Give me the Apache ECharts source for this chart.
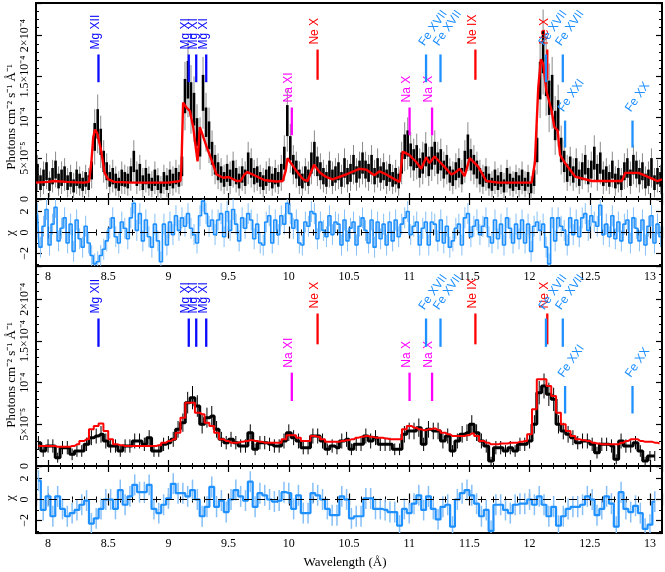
<!DOCTYPE html>
<html>
<head>
<meta charset="utf-8">
<script src="https://cdn.jsdelivr.net/npm/echarts@6/dist/echarts.min.js"></script>
<style>
  html, body { margin: 0; padding: 0; background: #fff; }
  #main { width: 665px; height: 572px; }
</style>
</head>
<body>
<div id="main"></div>
<script>
  // flux values are in units of 1e-5 photons cm^-2 s^-1 A^-1

  // upper spectrum: 0.025 A bins starting at 7.9 A
  const topStart = 7.9, topStep = 0.025;
  const topFlux = [
    3.2, 2.0, 2.6, 3.4, 1.8, 2.8, 3.6, 2.2, 2.6, 3.0,
    2.0, 2.4, 1.6, 2.6, 2.2, 1.8, 2.4, 2.0, 3.5, 7.6,
    9.2, 7.0, 4.6, 3.4, 2.4, 2.8, 2.2, 1.8, 2.6, 2.4,
    2.2, 3.0, 4.6, 2.6, 3.2, 2.0, 2.8, 2.2, 1.8, 2.6,
    2.0, 1.4, 2.4, 2.0, 2.6, 2.2, 2.8, 2.4, 4.0, 12.6,
    14.6, 12.2, 11.0, 8.2, 6.8, 13.0, 9.4, 7.8, 5.6, 4.2,
    3.4, 3.0, 2.4, 3.2, 2.6, 3.6, 2.8, 2.2, 3.0, 2.6,
    4.4, 3.8, 2.8, 3.0, 2.4, 2.0, 2.6, 3.0, 2.2, 2.8,
    2.4, 3.2, 5.0, 9.6, 6.2, 4.2, 3.6, 2.6, 2.2, 3.0,
    2.6, 4.4, 5.6, 4.0, 3.4, 2.8, 2.4, 3.6, 2.6, 3.0,
    3.4, 2.4, 3.8, 2.8, 3.2, 4.2, 3.0, 3.6, 4.4, 3.6,
    3.2, 4.2, 2.8, 3.8, 3.0, 3.4, 2.6, 3.2, 2.4, 2.8,
    2.2, 4.4, 6.4, 6.8, 5.4, 4.8, 5.2, 3.8, 4.4, 5.4,
    4.0, 5.0, 5.6, 4.4, 4.8, 3.6, 4.2, 3.0, 2.6, 3.4,
    3.8, 2.8, 4.6, 6.4, 4.8, 4.2, 3.6, 2.8, 2.4, 3.0,
    2.2, 1.8, 2.6, 2.0, 2.4, 1.6, 2.8, 2.2, 1.8, 2.4,
    2.0, 2.6, 1.8, 2.4, 1.4, 2.6, 6.0, 14.5, 18.0, 15.0,
    12.4, 13.0, 9.0, 10.2, 6.0, 4.6, 3.2, 4.0, 3.0, 3.8,
    2.6, 3.4, 4.2, 2.8, 3.6, 5.0, 3.2, 4.4, 2.6, 3.0,
    2.4, 3.6, 2.2, 2.8, 2.0, 3.4, 3.8, 2.6, 4.2, 3.6,
    2.8, 3.4, 2.2, 2.6, 3.8, 2.0, 2.8, 2.4
  ];
  const topErr = [
    1.1, 0.9, 1.0, 1.1, 0.8, 1.0, 1.1, 0.9, 1.0, 1.0,
    0.9, 0.9, 0.8, 1.0, 0.9, 0.8, 0.9, 0.9, 1.1, 1.7,
    1.8, 1.6, 1.3, 1.1, 0.9, 1.0, 0.9, 0.8, 1.0, 0.9,
    0.9, 1.0, 1.3, 1.0, 1.1, 0.9, 1.0, 0.9, 0.8, 1.0,
    0.9, 0.7, 0.9, 0.9, 1.0, 0.9, 1.0, 0.9, 1.2, 2.1,
    2.3, 2.1, 2.0, 1.7, 1.6, 2.2, 1.8, 1.7, 1.4, 1.2,
    1.1, 1.0, 0.9, 1.1, 1.0, 1.1, 1.0, 0.9, 1.0, 1.0,
    1.3, 1.2, 1.0, 1.0, 0.9, 0.9, 1.0, 1.0, 0.9, 1.0,
    0.9, 1.1, 1.4, 1.9, 1.5, 1.2, 1.1, 1.0, 0.9, 1.0,
    1.0, 1.3, 1.4, 1.2, 1.1, 1.0, 0.9, 1.1, 1.0, 1.0,
    1.1, 0.9, 1.2, 1.0, 1.1, 1.2, 1.0, 1.1, 1.3, 1.1,
    1.1, 1.2, 1.0, 1.2, 1.0, 1.1, 1.0, 1.1, 0.9, 1.0,
    0.9, 1.3, 1.5, 1.6, 1.4, 1.3, 1.4, 1.2, 1.3, 1.4,
    1.2, 1.4, 1.4, 1.3, 1.3, 1.1, 1.2, 1.0, 1.0, 1.1,
    1.2, 1.0, 1.3, 1.5, 1.3, 1.2, 1.1, 1.0, 0.9, 1.0,
    0.9, 0.8, 1.0, 0.9, 0.9, 0.8, 1.0, 0.9, 0.8, 0.9,
    0.9, 1.0, 0.8, 0.9, 0.7, 1.0, 1.5, 2.3, 2.6, 2.4,
    2.1, 2.2, 1.8, 1.9, 1.5, 1.3, 1.1, 1.2, 1.0, 1.2,
    1.0, 1.1, 1.2, 1.0, 1.1, 1.4, 1.1, 1.3, 1.0, 1.0,
    0.9, 1.1, 0.9, 1.0, 0.9, 1.1, 1.2, 1.0, 1.2, 1.1,
    1.0, 1.1, 0.9, 1.0, 1.2, 0.9, 1.0, 0.9
  ];
  const topChi = [
    1.8, -1.4, 0.6, 2.2, -1.2, 0.8, 2.4, -0.8, 0.4, 1.4,
    -1.0, 0.8, -1.8, 1.2, -0.6, -1.4, 0.6, -1.0, -2.2, -3.0,
    -2.8, -2.2, -1.6, -0.8, 0.4, 1.4, -0.4, -1.0, 1.0, 0.4,
    -0.6, 1.4, 2.8, 0.2, 1.8, -0.8, 1.2, -0.4, -1.4, 0.8,
    -0.8, -2.8, 0.8, -1.2, 1.0, -0.2, 1.6, 0.2, 1.4, 0.6,
    1.8, 0.4, -0.2, -1.0, 1.6, 3.0, 1.8, 0.6, 1.2, -0.2,
    1.2, 1.8, -0.4, 2.0, 0.2, 2.2, 0.8, -0.8, 1.4, 0.4,
    1.8, 1.2, -0.6, 0.8, -1.0, -1.2, 1.0, 1.6, -1.0, 1.2,
    -0.2, 1.6, 0.8, 2.8, 1.8, 0.4, 1.2, -1.0, -1.2, 1.0,
    0.6, 2.0, 1.8, -0.6, 1.0, 0.2, -0.4, 1.6, -0.2, 1.0,
    0.8, -1.2, 1.2, -0.8, 0.4, 1.0, -1.2, 0.6, 1.4, 0.2,
    -1.0, 1.2, -1.4, 1.0, -0.6, 0.8, -1.2, 1.0, -0.8, 1.2,
    -0.4, 0.8, 1.4, 2.0, -0.2, 0.6, 1.0, -1.2, 0.4, 1.0,
    -1.2, 1.0, 0.8, -0.8, 1.2, -1.0, 0.6, -1.4, -0.8, 0.4,
    0.8, -1.2, 1.4, 1.8, -0.4, 0.6, 1.2, -0.2, 0.6, 1.4,
    -0.4, -1.0, 1.2, -0.6, 0.8, -1.2, 1.4, 0.4, -1.0, 0.8,
    -0.6, 1.2, -1.0, 0.8, -1.8, 0.6, 1.0, 0.2, 0.8, -1.4,
    -3.0, 1.4, -0.8, 1.4, 0.6, 0.2, -1.2, 1.4, -0.2, 1.2,
    -0.4, 1.4, 1.8, 0.2, 1.6, 1.0, 0.6, 2.6, -0.2, 0.8,
    -0.4, 1.6, -0.6, 1.0, -0.8, 0.8, 1.2, -1.0, 1.4, 0.4,
    -0.8, 1.2, -1.2, 0.6, 1.6, -1.0, 0.8, -0.4
  ];
  const topModelWave = [
    7.9, 8.0, 8.05, 8.15, 8.3, 8.34, 8.36, 8.375, 8.39, 8.41, 8.44, 8.47, 8.5, 8.55, 8.7, 9.0, 9.1,
    9.108, 9.122, 9.15, 9.178, 9.206, 9.23, 9.242, 9.261, 9.28, 9.317, 9.358, 9.4, 9.456, 9.5, 9.567,
    9.6, 9.63, 9.656, 9.7, 9.8, 9.9, 9.95, 9.975, 9.989, 10.06, 10.12, 10.156, 10.19, 10.21, 10.26,
    10.31, 10.364, 10.475, 10.586, 10.642, 10.71, 10.753, 10.81, 10.88, 10.92, 10.947, 11.0, 11.06,
    11.1, 11.142, 11.17, 11.21, 11.29, 11.35, 11.378, 11.42, 11.46, 11.503, 11.572, 11.64, 11.74,
    12.017, 12.044, 12.072, 12.094, 12.114, 12.14, 12.183, 12.206, 12.233, 12.253, 12.294, 12.378,
    12.517, 12.767, 12.794, 12.906, 13.017, 13.06, 13.1
  ];
  const topModelFlux = [
    2.0, 2.1, 2.2, 2.1, 2.0, 2.1, 4.5, 7.5, 8.5, 8.0, 6.0, 3.2, 2.4, 2.1, 2.0, 2.0, 2.2,
    4.0, 11.8, 11.2, 10.8, 8.8, 6.0, 4.6, 8.8, 8.0, 6.4, 4.8, 3.0, 2.6, 2.7, 2.2,
    2.2, 3.0, 3.3, 3.0, 2.3, 2.15, 2.2, 3.5, 5.0, 3.5, 2.4, 2.2, 3.5, 4.2, 3.2,
    2.7, 2.4, 3.0, 3.7, 3.6, 2.9, 3.4, 3.0, 2.4, 2.1, 5.8, 5.4, 4.5,
    3.7, 5.1, 4.4, 5.2, 4.0, 3.0, 3.2, 3.7, 2.8, 5.0, 4.0, 2.2, 2.0,
    2.0, 4.4, 13.6, 17.1, 16.5, 13.2, 10.8, 8.8, 8.4, 5.4, 4.4, 2.75,
    2.2, 2.2, 3.2, 3.2, 2.5, 2.2, 2.4
  ];

  // lower spectrum: 0.04 A bins starting at 7.9 A
  const botStart = 7.9, botStep = 0.04;
  const botFlux = [
    2.8, 1.8, 2.4, 2.4, 1.0, 2.2, 2.2, 1.4, 1.8, 1.8,
    2.6, 3.4, 3.6, 3.8, 3.0, 2.4, 2.4, 1.8, 2.4, 2.4,
    3.0, 3.0, 2.6, 3.4, 1.8, 1.8, 2.6, 2.8, 3.2, 4.4,
    5.2, 7.6, 8.2, 7.2, 5.0, 5.8, 6.0, 4.4, 3.2, 2.8,
    3.2, 2.8, 2.4, 2.4, 4.0, 2.0, 2.8, 2.8, 2.6, 2.4,
    2.4, 3.0, 4.0, 3.4, 3.0, 2.2, 2.2, 3.6, 3.6, 3.0,
    2.0, 2.4, 2.2, 3.0, 3.2, 2.0, 2.6, 2.6, 3.6, 3.0,
    3.4, 2.6, 2.6, 2.6, 2.0, 2.0, 3.8, 4.2, 4.2, 4.6,
    2.6, 4.4, 4.2, 4.2, 3.0, 3.6, 1.8, 3.0, 3.8, 4.0,
    5.0, 4.0, 3.0, 2.4, 0.6, 2.2, 2.2, 1.8, 2.2, 1.8,
    2.6, 2.6, 3.0, 5.0, 8.8, 9.6, 8.6, 8.0, 5.0, 4.2,
    3.8, 3.4, 2.8, 3.0, 3.0, 2.6, 1.6, 2.6, 2.6, 2.4,
    0.8, 3.0, 2.4, 2.4, 2.8, 1.8, 0.6, 1.2, 1.2
  ];
  const botErr = [
    0.8, 0.7, 0.8, 0.8, 0.6, 0.8, 0.8, 0.7, 0.7, 0.7,
    0.8, 0.9, 0.9, 1.0, 0.9, 0.8, 0.8, 0.7, 0.8, 0.8,
    0.9, 0.9, 0.8, 0.9, 0.7, 0.7, 0.8, 0.8, 0.9, 1.0,
    1.1, 1.3, 1.4, 1.3, 1.1, 1.2, 1.2, 1.0, 0.9, 0.8,
    0.9, 0.8, 0.8, 0.8, 1.0, 0.7, 0.8, 0.8, 0.8, 0.8,
    0.8, 0.9, 1.0, 0.9, 0.9, 0.8, 0.8, 0.9, 0.9, 0.9,
    0.7, 0.8, 0.8, 0.9, 0.9, 0.7, 0.8, 0.8, 0.9, 0.9,
    0.9, 0.8, 0.8, 0.8, 0.7, 0.7, 1.0, 1.0, 1.0, 1.1,
    0.8, 1.0, 1.0, 1.0, 0.9, 0.9, 0.7, 0.9, 1.0, 1.0,
    1.1, 1.0, 0.9, 0.8, 0.5, 0.8, 0.8, 0.7, 0.8, 0.7,
    0.8, 0.8, 0.9, 1.1, 1.4, 1.5, 1.4, 1.4, 1.1, 1.0,
    1.0, 0.9, 0.8, 0.9, 0.9, 0.8, 0.7, 0.8, 0.8, 0.8,
    0.6, 0.9, 0.8, 0.8, 0.8, 0.7, 0.5, 0.6, 0.6
  ];
  const botModel = [
    2.4, 2.4, 2.4, 2.4, 2.3, 2.3, 2.3, 2.4, 2.6, 3.0,
    3.2, 4.4, 4.8, 5.1, 4.2, 3.2, 2.6, 2.5, 2.4, 2.4,
    2.4, 2.4, 2.4, 2.4, 2.4, 2.5, 2.8, 3.0, 3.2, 4.0,
    5.8, 7.6, 7.6, 6.4, 6.2, 5.2, 4.8, 4.0, 3.2, 3.0,
    2.8, 2.8, 2.9, 3.0, 3.1, 3.0, 2.9, 2.8, 2.8, 2.8,
    2.8, 3.2, 3.7, 3.7, 3.4, 3.0, 3.0, 3.6, 3.5, 3.2,
    2.9, 2.9, 2.9, 3.0, 3.1, 3.2, 3.4, 3.5, 3.6, 3.5,
    3.4, 3.4, 3.3, 3.2, 3.2, 3.2, 4.4, 4.8, 4.6, 4.4,
    4.3, 4.4, 4.5, 4.3, 4.0, 3.8, 3.6, 3.6, 3.6, 3.7,
    3.9, 3.6, 3.0, 2.8, 2.6, 2.6, 2.7, 2.7, 2.8, 2.8,
    2.9, 3.0, 3.8, 6.8, 10.4, 10.4, 9.6, 8.4, 6.4, 5.0,
    4.2, 3.6, 3.2, 3.1, 3.0, 2.8, 2.7, 2.6, 2.6, 2.6,
    2.6, 2.8, 3.0, 3.2, 3.2, 3.0, 2.9, 2.9, 2.8, 2.7
  ];
  const botChi = [
    1.8, -1.0, 0.3, -1.6, 0.3, -0.9, -1.6, -1.3, -1.0, -0.5,
    -0.1, -2.3, -1.8, -0.9, 0.0, 0.0, -0.9, 0.9, -0.5, 0.3,
    1.4, 0.7, 0.7, 1.4, -0.9, -1.3, -0.5, 0.1, 1.5, 0.6,
    0.6, 0.3, 0.9, 0.0, -1.6, -0.7, 1.2, -0.7, -0.1, -1.2,
    0.0, 0.9, 0.3, -0.1, 1.7, -0.7, 0.6, 0.4, 0.0, -0.2,
    -0.1, 0.7, 0.6, -0.9, 0.4, -1.3, -1.3, 0.6, 0.4, 0.0,
    -0.9, -1.5, -1.5, 0.3, 0.0, -1.8, -1.6, -1.6, 0.1, 0.1,
    -0.9, -0.9, -1.0, -1.2, -1.2, -2.5, -0.9, -1.3, -0.4, 0.4,
    -1.0, 0.3, -0.9, -1.9, -0.7, -0.5, -2.6, 0.0, 0.6, 0.9,
    0.4, -0.4, -1.6, -1.0, -3.0, -0.5, -0.5, -1.0, -1.3, -0.5,
    -0.4, -0.4, 0.0, -0.5, 0.3, -0.5, -1.6, -0.7, -2.5, -1.6,
    -0.9, -0.7, -0.7, -0.5, 0.3, 0.0, -1.5, -0.9, 0.3, -0.4,
    -2.6, 0.7, -0.9, -1.2, -0.6, -1.3, -2.8, -2.4, -0.2
  ];

  // line identifications
  const lineWave = [8.419, 9.169, 9.231, 9.314, 10.025, 10.239, 11.003, 11.19,
                    11.14, 11.26, 11.55, 12.147, 12.136, 12.276, 12.295, 12.855];
  const lineName = ['Mg XII', 'Mg XI', 'Mg XI', 'Mg XI', 'Na XI', 'Ne X', 'Na X', 'Na X',
                    'Fe XVII', 'Fe XVII', 'Ne IX', 'Ne X', 'Fe XVII', 'Fe XVII', 'Fe XXI', 'Fe XX'];

  // ticks
  const xTickValues = [8, 8.5, 9, 9.5, 10, 10.5, 11, 11.5, 12, 12.5, 13];
  const fluxTickValues = [0, 5, 10, 15, 20];
  const fluxTickLabels = ['0', '5×10⁻⁵', '10⁻⁴', '1.5×10⁻⁴', '2×10⁻⁴'];
  const chiTickValues = [-2, 0, 2];

  // ---- layout / style ----
  const X_MIN = 7.9, X_MAX = 13.1;
  const FLUX_MAX = 24, CHI_LIM = 3.2;
  const SERIF = '"Liberation Serif", "Times New Roman", serif';
  const SANS = '"Liberation Sans", Arial, sans-serif';
  const ionColor = { Mg: '#0a0aff', Na: '#ff00ff', Ne: '#ff0000', Fe: '#1e90ff' };
  // bar extent (flux units) for each tag row
  const tierLevel = { A: [14.3, 17.7], B: [14.6, 18.3], C: [7.8, 11.2], D: [6.3, 9.6] };
  const lineTier = ['A', 'A', 'A', 'A', 'C', 'B', 'C', 'C', 'A', 'A', 'B', 'B', 'A', 'A', 'D', 'D'];
  const TILT = 55 * Math.PI / 180;

  const grids = [
    { left: 36, right: 3, top: 1, height: 198 },
    { left: 36, right: 3, top: 199, height: 67 },
    { left: 36, right: 3, top: 266, height: 200 },
    { left: 36, right: 3, top: 466, height: 67 }
  ];

  function xAxes(gi, showLabels) {
    const base = {
      gridIndex: gi, type: 'value', min: X_MIN, max: X_MAX,
      minInterval: 0.5, maxInterval: 0.5,
      axisLine: { show: false }, splitLine: { show: false },
      axisTick: { inside: true, length: 6, lineStyle: { color: '#000', width: 1.2 } },
      minorTick: { show: true, splitNumber: 5, length: 3, lineStyle: { color: '#000', width: 1 } }
    };
    return [
      Object.assign({}, base, {
        position: 'bottom',
        axisLabel: {
          show: showLabels, margin: 5, color: '#000', fontFamily: SERIF, fontSize: 12,
          formatter: v => xTickValues.some(t => Math.abs(t - v) < 1e-6) ? String(v) : ''
        }
      }),
      Object.assign({}, base, { position: 'top', axisLabel: { show: false } })
    ];
  }

  function yAxes(gi, isFlux) {
    const base = {
      gridIndex: gi, type: 'value',
      min: isFlux ? 0 : -CHI_LIM, max: isFlux ? FLUX_MAX : CHI_LIM,
      minInterval: isFlux ? 5 : 2, maxInterval: isFlux ? 5 : 2,
      axisLine: { show: false }, splitLine: { show: false },
      axisTick: { inside: true, length: 6, lineStyle: { color: '#000', width: 1.2 } },
      minorTick: { show: true, splitNumber: isFlux ? 5 : 2, length: 3, lineStyle: { color: '#000', width: 1 } }
    };
    const fmt = isFlux
      ? v => { const k = fluxTickValues.indexOf(v); return k >= 0 ? fluxTickLabels[k] : ''; }
      : v => chiTickValues.indexOf(v) >= 0 ? (v < 0 ? '−' + Math.abs(v) : String(v)) : '';
    return [
      Object.assign({}, base, {
        position: 'left',
        axisLabel: { rotate: 90, margin: 5, color: '#000', fontFamily: SERIF, fontSize: 12, formatter: fmt }
      }),
      Object.assign({}, base, { position: 'right', axisLabel: { show: false } })
    ];
  }

  function binned(start, step, vals, errs) {
    return vals.map((v, i) => [start + step * (i + 0.5), v, errs ? errs[i] : 1]);
  }

  function clampY(v, lo, hi) { return Math.min(hi, Math.max(lo, v)); }

  // upper spectrum: black 1-sigma bars with grey whiskers
  function topDataSeries() {
    return {
      type: 'custom', xAxisIndex: 0, yAxisIndex: 0, z: 3,
      data: binned(topStart, topStep, topFlux, topErr),
      encode: { x: 0, y: 1 },
      renderItem(params, api) {
        const x = api.value(0), v = api.value(1), e = api.value(2);
        const a = api.coord([x, clampY(v - 2 * e, 0, FLUX_MAX)]);
        const b = api.coord([x, clampY(v + 2 * e, 0, FLUX_MAX)]);
        const c = api.coord([x, clampY(v - e, 0, FLUX_MAX)]);
        const d = api.coord([x, clampY(v + e, 0, FLUX_MAX)]);
        return {
          type: 'group', children: [
            { type: 'line', shape: { x1: a[0], y1: a[1], x2: b[0], y2: b[1] }, style: { stroke: '#8a8a8a', lineWidth: 1 } },
            { type: 'rect', shape: { x: c[0] - 1.3, y: d[1], width: 2.6, height: c[1] - d[1] }, style: { fill: '#000' } }
          ]
        };
      }
    };
  }

  function errBarSeries(axis, data, color, width, lo, hi, z) {
    return {
      type: 'custom', xAxisIndex: axis.x, yAxisIndex: axis.y, z: z,
      data: data, encode: { x: 0, y: 1 },
      renderItem(params, api) {
        const x = api.value(0), v = api.value(1), e = api.value(2);
        const a = api.coord([x, clampY(v - e, lo, hi)]);
        const b = api.coord([x, clampY(v + e, lo, hi)]);
        return { type: 'line', shape: { x1: a[0], y1: a[1], x2: b[0], y2: b[1] }, style: { stroke: color, lineWidth: width } };
      }
    };
  }

  function tagSeries(gi) {
    return {
      type: 'custom', xAxisIndex: 2 * gi, yAxisIndex: 2 * gi, z: 10,
      data: lineWave.map((w, i) => [w, tierLevel[lineTier[i]][1], i]),
      encode: { x: 0, y: 1 },
      renderItem(params, api) {
        const i = api.value(2);
        const name = lineName[i];
        const color = ionColor[name.split(' ')[0]];
        const lv = tierLevel[lineTier[i]];
        const top = api.coord([api.value(0), lv[1]]);
        const bot = api.coord([api.value(0), lv[0]]);
        const tilted = name.indexOf('Fe') === 0;
        const textStyle = { text: name, fill: color, fontSize: 12, fontFamily: SANS, align: 'left',
                            verticalAlign: tilted ? 'bottom' : 'middle' };
        const text = tilted
          ? { type: 'text', x: top[0] + 0.5, y: top[1] - 6.5, rotation: TILT, style: textStyle }
          : { type: 'text', x: top[0] - 3, y: top[1] - 5, rotation: Math.PI / 2, style: textStyle };
        return {
          type: 'group', children: [
            { type: 'line', shape: { x1: top[0], y1: top[1], x2: bot[0], y2: bot[1] }, style: { stroke: color, lineWidth: 2.3 } },
            text
          ]
        };
      }
    };
  }

  const zeroLine = {
    silent: true, symbol: 'none', label: { show: false },
    lineStyle: { color: '#000', type: [8, 5], width: 1.1 },
    data: [{ yAxis: 0 }]
  };

  const series = [
    // panel 1
    topDataSeries(),
    {
      type: 'line', xAxisIndex: 0, yAxisIndex: 0, z: 5, showSymbol: false, symbol: 'none',
      data: topModelWave.map((w, i) => [w, topModelFlux[i]]),
      lineStyle: { color: '#ff0000', width: 2.4 }
    },
    tagSeries(0),
    // panel 2
    errBarSeries({ x: 2, y: 2 }, binned(topStart, topStep, topChi, null), '#86c0f7', 1, -CHI_LIM, CHI_LIM, 2),
    {
      type: 'line', xAxisIndex: 2, yAxisIndex: 2, z: 4, step: 'middle', symbol: 'none',
      data: binned(topStart, topStep, topChi, null).map(d => [d[0], d[1]]),
      lineStyle: { color: '#1e90ff', width: 1.6 },
      markLine: zeroLine
    },
    // panel 3
    errBarSeries({ x: 4, y: 4 }, binned(botStart, botStep, botFlux, botErr), '#000', 1, 0, FLUX_MAX, 3),
    {
      type: 'line', xAxisIndex: 4, yAxisIndex: 4, z: 4, step: 'middle', symbol: 'none',
      data: binned(botStart, botStep, botFlux, null).map(d => [d[0], d[1]]),
      lineStyle: { color: '#000', width: 3 }
    },
    {
      type: 'line', xAxisIndex: 4, yAxisIndex: 4, z: 5, step: 'middle', symbol: 'none',
      data: botModel.map((v, i) => [botStart + botStep * (i + 0.5), v]),
      lineStyle: { color: '#ff0000', width: 2 }
    },
    tagSeries(2),
    // panel 4
    errBarSeries({ x: 6, y: 6 }, binned(botStart, botStep, botChi, null), '#86c0f7', 1.5, -CHI_LIM, CHI_LIM, 2),
    {
      type: 'line', xAxisIndex: 6, yAxisIndex: 6, z: 4, step: 'middle', symbol: 'none',
      data: binned(botStart, botStep, botChi, null).map(d => [d[0], d[1]]),
      lineStyle: { color: '#1e90ff', width: 2.2 },
      markLine: zeroLine
    }
  ];

  const axisTitle = (x, y, text, rot) => ({
    type: 'text', x: x, y: y, rotation: rot, z: 20,
    style: { text: text, fill: '#000', fontSize: 13, fontFamily: SERIF, align: 'center', verticalAlign: 'middle' }
  });

  const chart = echarts.init(document.getElementById('main'), null, { renderer: 'canvas' });
  chart.setOption({
    animation: false,
    backgroundColor: '#fff',
    grid: grids.map(g => Object.assign({ show: true, borderColor: '#000', borderWidth: 2, containLabel: false }, g)),
    xAxis: [].concat(xAxes(0, false), xAxes(1, true), xAxes(2, false), xAxes(3, true)),
    yAxis: [].concat(yAxes(0, true), yAxes(1, false), yAxes(2, true), yAxes(3, false)),
    series: series,
    graphic: [
      axisTitle(12, 117, 'Photons cm⁻² s⁻¹ Å⁻¹', Math.PI / 2),
      axisTitle(12, 375, 'Photons cm⁻² s⁻¹ Å⁻¹', Math.PI / 2),
      axisTitle(11, 233, 'χ', Math.PI / 2),
      axisTitle(11, 498, 'χ', Math.PI / 2),
      axisTitle(345, 563, 'Wavelength (Å)', 0)
    ]
  });
</script>
</body>
</html>
